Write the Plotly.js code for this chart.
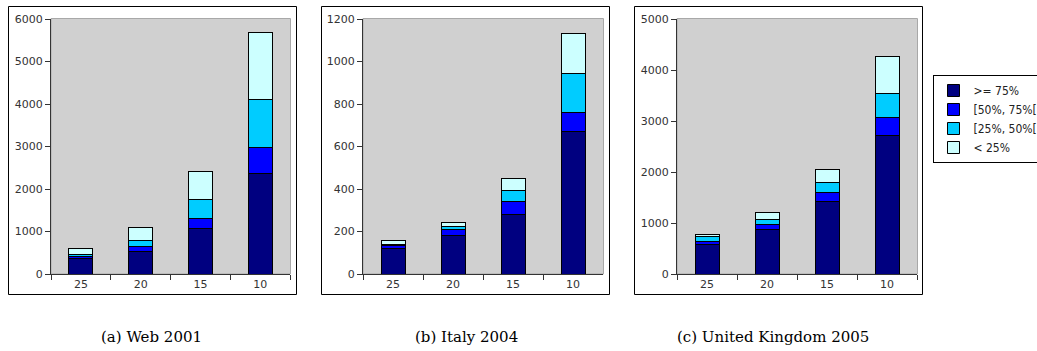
<!DOCTYPE html>
<html>
<head>
<meta charset="utf-8">
<script src="https://cdn.plot.ly/plotly-3.0.1.min.js"></script>
<style>
  html, body { margin: 0; padding: 0; background: #ffffff; }
  #chart { width: 1037px; height: 351px; }
</style>
</head>
<body>
<div id="chart"></div>
<script>
// ---- data ----
const categories = ["25", "20", "15", "10"];
const seriesNames = [">= 75%", "[50%, 75%[", "[25%, 50%[", "< 25%"];
const seriesColors = ["#000080", "#0000ff", "#00ccff", "#ccffff"];

// (a) Web 2001
const web2001_ge75 = [355, 540, 1065, 2375];
const web2001_50_75 = [60, 110, 235, 610];
const web2001_25_50 = [50, 140, 455, 1130];
const web2001_lt25 = [140, 305, 660, 1560];

// (b) Italy 2004
const italy2004_ge75 = [122, 182, 281, 671];
const italy2004_50_75 = [10, 27, 58, 90];
const italy2004_25_50 = [9, 15, 53, 182];
const italy2004_lt25 = [16, 19, 57, 190];

// (c) United Kingdom 2005
const uk2005_ge75 = [588, 869, 1431, 2719];
const uk2005_50_75 = [59, 92, 164, 353];
const uk2005_25_50 = [84, 111, 196, 464];
const uk2005_lt25 = [47, 137, 261, 725];

const panelTitles = ["(a) Web 2001", "(b) Italy 2004", "(c) United Kingdom 2005"];
const yMax = [6000, 1200, 5000];
const yDtick = [1000, 200, 1000];

const panels = [
  [web2001_ge75, web2001_50_75, web2001_25_50, web2001_lt25],
  [italy2004_ge75, italy2004_50_75, italy2004_25_50, italy2004_lt25],
  [uk2005_ge75, uk2005_50_75, uk2005_25_50, uk2005_lt25]
];

// ---- layout geometry (pixels) ----
const W = 1037, H = 351;
const px = v => v / W;
const py = v => 1 - v / H;
const plotX = [[51, 290], [363, 603], [677, 917]];
const plotY = [19, 274];
const boxX = [[8.5, 296.5], [321.5, 609.5], [634.5, 922.5]];
const boxY = [6.5, 294.5];
const captionX = [151, 466, 773];

const traces = [];
panels.forEach((series, p) => {
  const xa = p === 0 ? "x" : "x" + (p + 1);
  const ya = p === 0 ? "y" : "y" + (p + 1);
  series.forEach((vals, s) => {
    traces.push({
      type: "bar",
      x: categories,
      y: vals,
      name: seriesNames[s],
      xaxis: xa,
      yaxis: ya,
      width: 0.4,
      marker: { color: seriesColors[s], line: { color: "#000000", width: 1 } },
      showlegend: p === 2,
      hoverinfo: "x+y+name"
    });
  });
});

const font = { family: "DejaVu Sans, Verdana, sans-serif", size: 11, color: "#333333" };

const layout = {
  width: W,
  height: H,
  margin: { l: 0, r: 0, t: 0, b: 0, autoexpand: false },
  paper_bgcolor: "#ffffff",
  plot_bgcolor: "#d0d0d0",
  barmode: "stack",
  bargap: 0.6,
  font: font,
  showlegend: true,
  legend: {
    x: px(932.5), y: py(75), xanchor: "left", yanchor: "top",
    bgcolor: "#ffffff", bordercolor: "#000000", borderwidth: 1,
    font: { family: "DejaVu Sans Condensed, DejaVu Sans, sans-serif", size: 12, color: "#222222" },
    traceorder: "normal",
    itemwidth: 30,
    tracegroupgap: 0
  },
  shapes: [],
  annotations: []
};

panels.forEach((series, p) => {
  const sfx = p === 0 ? "" : String(p + 1);
  const ya = p === 0 ? "y" : "y" + (p + 1);
  const xa = p === 0 ? "x" : "x" + (p + 1);
  layout["xaxis" + sfx] = {
    domain: [px(plotX[p][0]), px(plotX[p][1])],
    anchor: ya,
    type: "category",
    showgrid: false,
    zeroline: false,
    showline: true,
    linecolor: "#333333",
    linewidth: 1,
    ticks: "outside",
    tickson: "boundaries",
    ticklen: 5,
    tickcolor: "#333333",
    tickfont: font,
    fixedrange: true
  };
  layout["yaxis" + sfx] = {
    domain: [py(plotY[1]), py(plotY[0])],
    anchor: xa,
    range: [0, yMax[p]],
    dtick: yDtick[p],
    showgrid: false,
    zeroline: false,
    showline: true,
    linecolor: "#333333",
    linewidth: 1,
    ticks: "outside",
    ticklen: 5,
    tickcolor: "#333333",
    tickfont: font,
    fixedrange: true
  };
  // light border of the plot area (top / right)
  layout.shapes.push({
    type: "rect", xref: "paper", yref: "paper",
    x0: px(plotX[p][0]), x1: px(plotX[p][1] + 0.5),
    y0: py(plotY[1]), y1: py(plotY[0] - 0.5),
    line: { color: "#a8a8a8", width: 1 }, layer: "below"
  });
  // outer black frame
  layout.shapes.push({
    type: "rect", xref: "paper", yref: "paper",
    x0: px(boxX[p][0]), x1: px(boxX[p][1]),
    y0: py(boxY[1]), y1: py(boxY[0]),
    line: { color: "#000000", width: 1 }
  });
  layout.annotations.push({
    xref: "paper", yref: "paper",
    x: px(captionX[p]), y: py(337),
    xanchor: "center", yanchor: "middle",
    text: panelTitles[p],
    showarrow: false,
    font: { family: "DejaVu Serif, Liberation Serif, serif", size: 15, color: "#000000" }
  });
});

Plotly.newPlot("chart", traces, layout, { displayModeBar: false, staticPlot: true });
</script>
</body>
</html>
